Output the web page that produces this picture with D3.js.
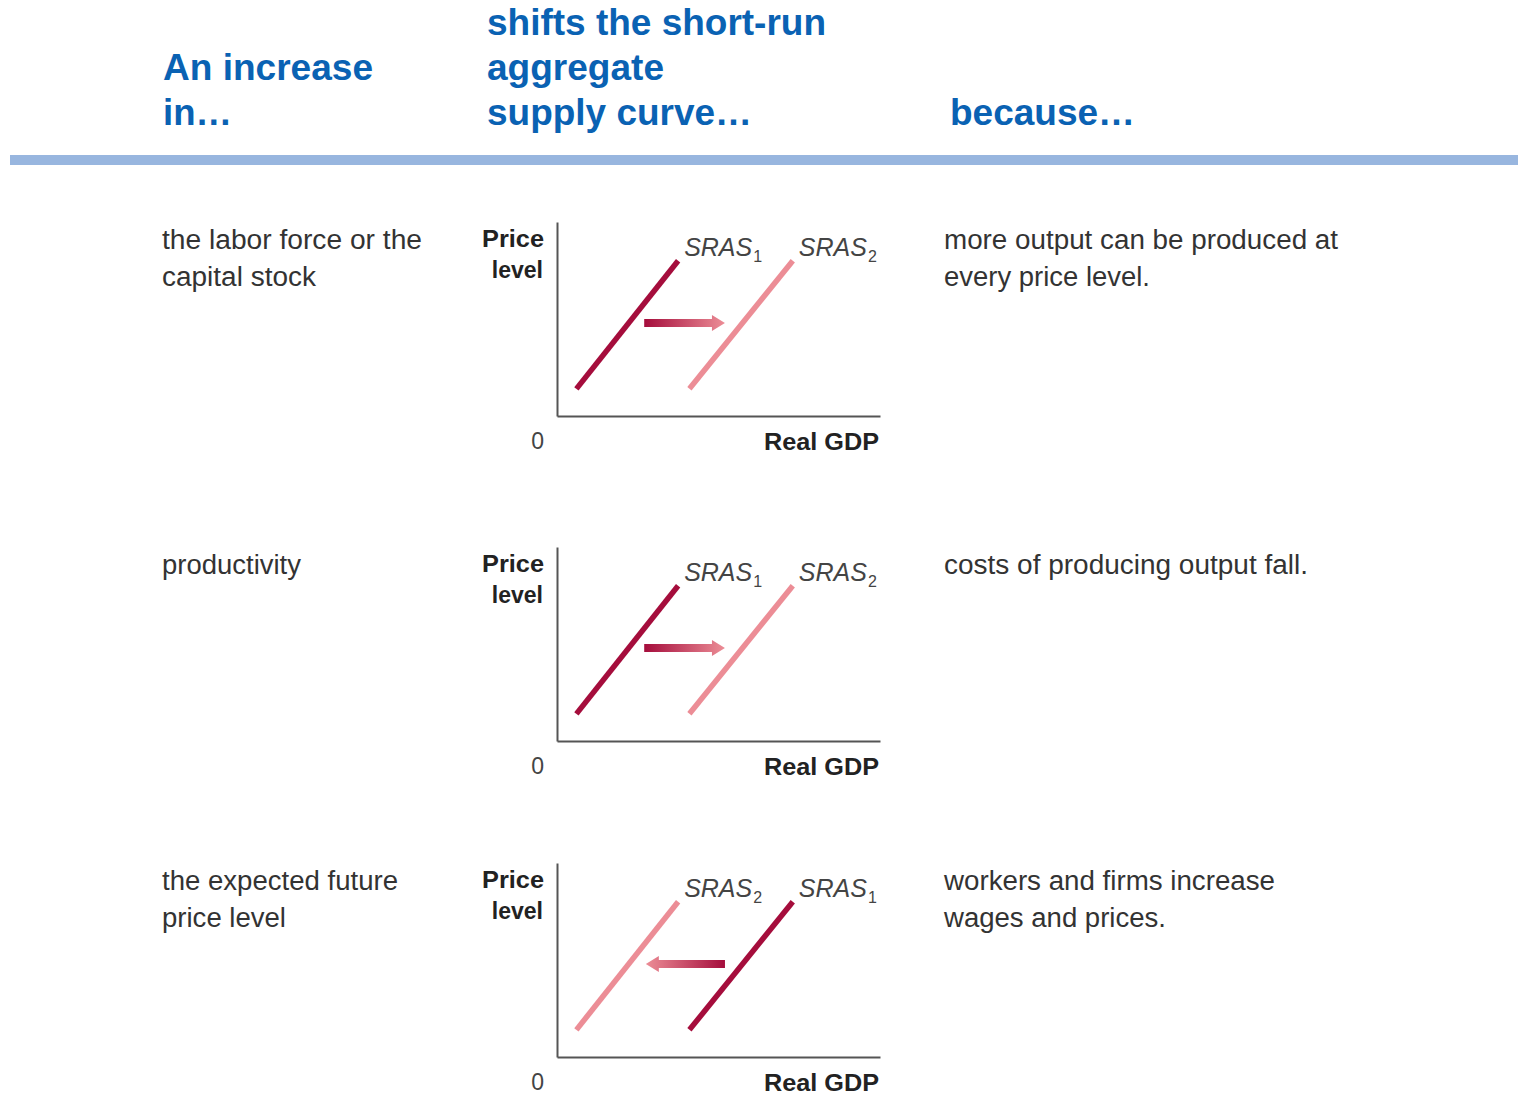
<!DOCTYPE html>
<html>
<head>
<meta charset="utf-8">
<script src="https://cdn.jsdelivr.net/npm/d3@7"></script>
<style>
  html, body { margin: 0; padding: 0; background: #fff; }
  svg { display: block; }
</style>
</head>
<body>
<svg id="chart" width="1518" height="1096"></svg>
<script>
// Column headers
var headers = [
  { lines: ['An increase', 'in\u2026'], col: 0 },
  { lines: ['shifts the short-run', 'aggregate', 'supply curve\u2026'], col: 1 },
  { lines: ['because\u2026'], col: 2 }
];

// Row texts
var causes = [
  ['the labor force or the', 'capital stock'],
  ['productivity'],
  ['the expected future', 'price level']
];
var reasons = [
  ['more output can be produced at', 'every price level.'],
  ['costs of producing output fall.'],
  ['workers and firms increase', 'wages and prices.']
];

// Curves in axis units (0-100 on both axes)
var curveLeft = [[6, 14], [37.5, 80]];
var curveRight = [[41, 14], [73, 80]];
// which curve is SRAS1 per row ('left' = original curve on the left)
var original = ['left', 'left', 'right'];
// shift arrow: from, to (x), at price level y
var arrows = [
  { from: 27, to: 52, y: 48 },
  { from: 27, to: 52, y: 48 },
  { from: 52, to: 27.5, y: 48 }
];

var dark = '#a50d3c', light = '#ec8d96', blue = '#0a62b3', grey = '#333';

var svg = d3.select('#chart');

// ---- header
var headerX = [163, 487, 950],
    headerW = {
      'An increase': 210, 'in\u2026': 69, 'shifts the short-run': 339,
      'aggregate': 177, 'supply curve\u2026': 265, 'because\u2026': 185
    };
headers.forEach(function(h) {
  var n = h.lines.length;
  h.lines.forEach(function(t, i) {
    svg.append('text')
      .attr('x', headerX[h.col])
      .attr('y', 125 - (n - 1 - i) * 45)
      .attr('font-family', 'Liberation Sans, Arial, sans-serif')
      .attr('font-weight', 'bold')
      .attr('font-size', 36)
      .attr('fill', blue)
      .attr('textLength', headerW[t])
      .attr('lengthAdjust', 'spacingAndGlyphs')
      .text(t);
  });
});

svg.append('rect')
  .attr('x', 10).attr('y', 155)
  .attr('width', 1508).attr('height', 10)
  .attr('fill', '#98b6df');

// ---- rows
var rowTop = [222, 547, 863],
    textW = {
      'the labor force or the': 260, 'capital stock': 154, 'productivity': 139,
      'the expected future': 236, 'price level': 124,
      'more output can be produced at': 394, 'every price level.': 206,
      'costs of producing output fall.': 364, 'workers and firms increase': 331,
      'wages and prices.': 222
    };

function bodyText(g, x, lines) {
  lines.forEach(function(t, i) {
    g.append('text')
      .attr('x', x)
      .attr('y', 27 + i * 37)
      .attr('font-family', 'Liberation Sans, Arial, sans-serif')
      .attr('font-size', 27)
      .attr('fill', grey)
      .attr('textLength', textW[t])
      .attr('lengthAdjust', 'spacingAndGlyphs')
      .text(t);
  });
}

var defs = svg.append('defs');
var plotW = 323, plotH = 194, axisX = 557;

rowTop.forEach(function(top, r) {
  var row = svg.append('g').attr('transform', 'translate(0,' + top + ')');
  bodyText(row, 162, causes[r]);
  bodyText(row, 944, reasons[r]);

  var x = d3.scaleLinear().domain([0, 100]).range([0, plotW]),
      y = d3.scaleLinear().domain([0, 100]).range([plotH, 0]);
  var g = row.append('g').attr('transform', 'translate(' + axisX + ',0)');

  // axes, no ticks
  g.append('g').attr('transform', 'translate(0,' + plotH + ')')
    .call(d3.axisBottom(x).tickValues([]).tickSizeOuter(0))
    .select('.domain').attr('stroke', '#555').attr('stroke-width', 2);
  g.append('g')
    .call(d3.axisLeft(y).tickValues([]).tickSizeOuter(0))
    .select('.domain').attr('stroke', '#555').attr('stroke-width', 2);

  var axisFont = 'Liberation Sans, Arial, sans-serif';
  g.append('text').attr('x', -13).attr('y', 25).attr('text-anchor', 'end')
    .attr('font-family', axisFont).attr('font-weight', 'bold').attr('font-size', 23)
    .attr('fill', '#222').attr('textLength', 62).attr('lengthAdjust', 'spacingAndGlyphs')
    .text('Price');
  g.append('text').attr('x', -14).attr('y', 56).attr('text-anchor', 'end')
    .attr('font-family', axisFont).attr('font-weight', 'bold').attr('font-size', 23)
    .attr('fill', '#222').text('level');
  g.append('text').attr('x', -13).attr('y', plotH + 33).attr('text-anchor', 'end')
    .attr('font-family', axisFont).attr('font-size', 23)
    .attr('fill', '#444').text('0');
  g.append('text').attr('x', plotW - 1).attr('y', plotH + 34).attr('text-anchor', 'end')
    .attr('font-family', axisFont).attr('font-weight', 'bold').attr('font-size', 24)
    .attr('fill', '#222').attr('textLength', 115).attr('lengthAdjust', 'spacingAndGlyphs')
    .text('Real GDP');

  // curves
  var line = d3.line().x(function(d) { return x(d[0]); }).y(function(d) { return y(d[1]); });
  var leftIsOrig = original[r] == 'left';
  var curves = [
    { pts: curveLeft, color: leftIsOrig ? dark : light, sub: leftIsOrig ? '1' : '2' },
    { pts: curveRight, color: leftIsOrig ? light : dark, sub: leftIsOrig ? '2' : '1' }
  ];
  curves.forEach(function(c) {
    g.append('path').attr('d', line(c.pts))
      .attr('fill', 'none').attr('stroke', c.color).attr('stroke-width', 5.5);
    var lbl = g.append('text')
      .attr('x', x(c.pts[1][0]) + 6)
      .attr('y', y(c.pts[1][1]) - 5)
      .attr('font-family', axisFont).attr('font-size', 25)
      .attr('fill', '#444');
    lbl.append('tspan').attr('font-style', 'italic').text('SRAS');
    lbl.append('tspan').attr('font-size', 16).attr('dy', 6).attr('dx', 1).text(c.sub);
  });

  // shift arrow with gradient dark -> light
  var a = arrows[r], x0 = x(a.from), x1 = x(a.to), ay = y(a.y),
      dir = x1 > x0 ? 1 : -1, head = 13, shaft = 4, hh = 8;
  var gid = 'grad' + r;
  var grad = defs.append('linearGradient').attr('id', gid)
    .attr('gradientUnits', 'userSpaceOnUse')
    .attr('x1', axisX + x0).attr('x2', axisX + x1).attr('y1', 0).attr('y2', 0);
  grad.append('stop').attr('offset', '0%').attr('stop-color', dark);
  grad.append('stop').attr('offset', '100%').attr('stop-color', light);
  var xb = x1 - dir * head;
  var pts = [[x0, ay - shaft], [xb, ay - shaft], [xb, ay - hh], [x1, ay],
             [xb, ay + hh], [xb, ay + shaft], [x0, ay + shaft]];
  row.append('path')
    .attr('d', 'M' + pts.map(function(p) { return (p[0] + axisX) + ',' + p[1]; }).join('L') + 'Z')
    .attr('fill', 'url(#' + gid + ')');
});
</script>
</body>
</html>
